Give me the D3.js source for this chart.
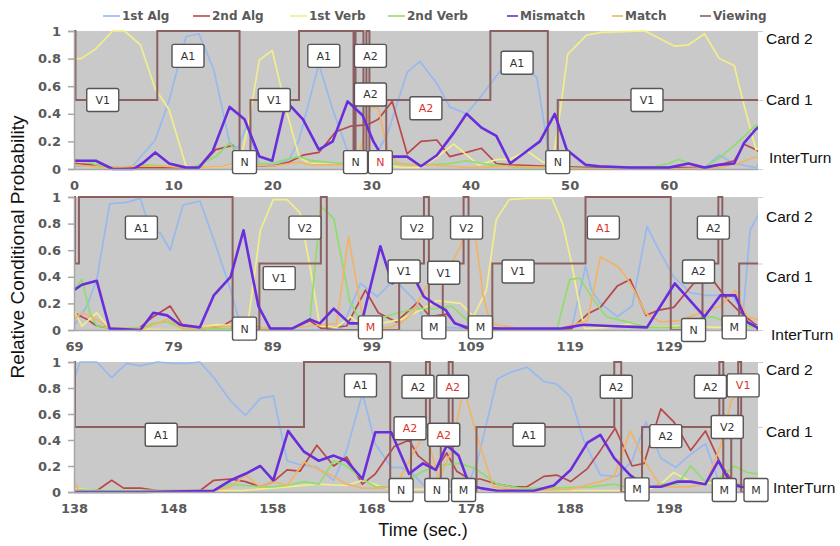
<!DOCTYPE html>
<html>
<head>
<meta charset="utf-8">
<script src="https://cdn.jsdelivr.net/npm/d3@7"></script>
<style>
  body { margin: 0; background: #fff; }
  svg { display: block; }
</style>
</head>
<body>
<svg id="chart" width="840" height="546"></svg>
<script>
// ---- Data (time in sec., value = relative conditional probability) ----
const panelStarts = [0, 69, 138];
const panelSpan = 69;
const tickOffsets = [0, 10, 20, 30, 40, 50, 60];
const yTicks = [0, 0.2, 0.4, 0.6, 0.8, 1];
const levelNames = ["Card 2", "Card 1", "InterTurn"];
const levelValues = [1, 0.5, 0];
const seriesNames = ["1st Alg", "2nd Alg", "1st Verb", "2nd Verb", "Mismatch", "Match", "Viewing"];

const alg1 = [
  [0,0.02],[2,0.02],[4,0.01],[5.9,0.02],[8.2,0.21],[9.6,0.5],[11.3,0.96],[12.6,0.98],[14.1,0.72],[15.7,0.19],
  [16.5,0.15],[17.4,0.31],[18.7,0.04],[20.4,0.03],[21.7,0.07],[22.7,0.21],[24.7,0.76],[26.1,0.43],[27.5,0.15],
  [28.5,0.03],[29.8,0.02],[31.6,0.25],[33.6,0.7],[34.9,0.78],[36.6,0.62],[37.9,0.45],[39.6,0.4],[41.1,0.53],
  [43,0.71],[45.4,0.76],[46.7,0.66],[47.8,0.16],[48.8,0.02],[52,0.01],[56,0.01],[60,0.01],[63.6,0.01],[65.1,0.1],
  [66.6,0.04],[68.8,0.01],
  [69,0.03],[70.3,0.18],[71.3,0.38],[72.6,0.95],[74.3,0.96],[75.7,0.99],[76.7,0.75],[77.7,0.73],[78.7,0.6],
  [80,0.94],[81.7,0.97],[83.1,0.68],[84.8,0.3],[85.8,0.03],[88,0.01],[92,0],[96,0.01],[97.9,0.35],[99.6,0.25],
  [101.3,0.38],[103.3,0.23],[104.5,0.05],[106,0.02],[110,0.01],[115,0],[119.2,0.01],[120.6,0.48],[121.2,0.3],
  [122.1,0.2],[123.8,0.1],[125.3,0.18],[126.8,0.78],[127.8,0.63],[129.5,0.4],[131.2,0.28],[132.8,0.26],
  [134.2,0.26],[135.5,0.25],[136.5,0.13],[137.2,0.75],[137.9,0.85],
  [138,0.86],[138.6,1],[140.3,1],[141.8,0.88],[143.3,0.99],[144.7,0.97],[146.4,1],[148,0.99],[149.4,0.99],
  [150.7,1],[152.1,0.88],[153.8,0.7],[155.3,0.59],[156.8,0.72],[158.1,0.74],[159.5,0.24],[160.8,0.21],
  [162.5,0.19],[164.2,0.09],[165.5,0.32],[167.1,0.76],[168.4,0.37],[170,0.19],[171,0.19],[172.3,0.13],
  [173.3,0.05],[175,0.01],[177.5,0.01],[178.7,0.24],[180.7,0.87],[182,0.92],[183.7,0.96],[185.4,0.85],
  [186.7,0.83],[188.1,0.73],[189.4,0.4],[191.1,0.13],[192.8,0.12],[194.3,0.24],[195.7,0.54],[197.2,0.26],
  [198.7,0.19],[200.2,0.29],[201.7,0.37],[203,0.09],[204.6,0.04],[207,0.02]
];

const alg2 = [
  [0,0.04],[2,0.03],[4,0.01],[8,0.01],[12.6,0.01],[14.3,0.14],[16,0.17],[16.8,0.03],[20,0.02],[21.7,0.05],
  [23.1,0.1],[24.7,0.12],[26.4,0.27],[27.9,0.31],[29.6,0.32],[30.7,0.36],[32.1,0.49],[33.6,0.11],[35,0.2],
  [36.6,0.21],[37.9,0.09],[39.6,0.12],[41.1,0.15],[42.6,0.04],[44,0.03],[48,0.02],[52,0.01],[60,0.01],
  [64,0.01],[66.6,0.06],[67.6,0.18],[68.8,0.14],
  [69,0.13],[70.3,0.08],[71.3,0.03],[73,0.01],[75.5,0.01],[77,0.1],[78.7,0.18],[80,0.03],[82,0.01],[84,0.03],
  [85.1,0.08],[86.4,0.05],[88,0.01],[91,0.01],[92.8,0.07],[94,0.01],[96.5,0.03],[97.2,0.13],[98.4,0.3],
  [99.7,0.13],[101.5,0.06],[103.7,0.21],[104.9,0.1],[106.6,0.12],[107.5,0.05],[108.6,0.01],[112,0],[116,0],
  [119.2,0.01],[120.8,0.12],[122.1,0.17],[123.8,0.33],[125.1,0.38],[126.7,0.11],[128,0.15],[129.5,0.17],
  [131.5,0.35],[133.6,0.36],[134.9,0.23],[136.1,0.14],[137.6,0.05],
  [138,0.03],[139.5,0.01],[140.3,0.01],[141.8,0.09],[143,0.03],[144.7,0.03],[146.4,0.01],[150.7,0.01],
  [152.1,0.09],[153.8,0.1],[155.3,0.08],[156.8,0.04],[158.1,0.08],[159.5,0.17],[160.8,0.16],[162.5,0.36],
  [164.2,0.2],[165.5,0.27],[167.1,0.06],[168.4,0.14],[170.3,0.35],[171.8,0.4],[172.7,0.28],[173.5,0.23],
  [174.5,0.17],[175.6,0.3],[176.6,0.16],[177.9,0.1],[179,0.1],[180.7,0.06],[182.3,0.04],[183.7,0.04],
  [185.4,0.12],[186.7,0.13],[188.1,0.08],[189.8,0.18],[191.1,0.32],[192.6,0.49],[194.3,0.2],[195.5,0.22],
  [197.2,0.64],[198.5,0.54],[200.2,0.32],[201.7,0.47],[203.2,0.22],[204.6,0.06],[207,0.04]
];

const verb1 = [
  [0,0.8],[0.7,0.8],[2.2,0.87],[3.9,1],[5.1,1],[6.7,0.9],[8.2,0.58],[9.6,0.43],[11.3,0.02],[12.6,0.01],
  [15,0.02],[16.7,0.04],[17.5,0.29],[18.7,0.79],[20,0.86],[21.4,0.43],[22.7,0.09],[23.7,0.04],[27,0.03],
  [29,0.03],[31,0.03],[33,0.01],[35,0.01],[36.5,0.08],[38.3,0.18],[40.8,0.03],[42.7,0.07],[44,0.07],
  [45.7,0.13],[47.3,0.05],[48.3,0.05],[49.1,0.45],[49.8,0.83],[51.7,0.97],[53.2,0.99],[57.6,1],[60.6,0.89],
  [62,0.9],[63.6,0.98],[65.1,0.8],[66.6,0.75],[67.6,0.46],[68.8,0.14],
  [69,0.15],[69.8,0.03],[71.3,0.13],[72.6,0.01],[80,0],[83.4,0.04],[86,0.03],[86.6,0.08],[87.8,0.75],
  [89.1,0.98],[90.5,0.98],[91.8,0.88],[92.8,0.48],[93.8,0.03],[95.5,0.02],[96.9,0.1],[98,0.03],[100,0.05],
  [102,0.08],[104,0.15],[105.6,0.22],[106.9,0.21],[108,0.2],[109.3,0.1],[110.6,0.3],[111.6,0.83],[112.9,0.98],
  [114.6,0.99],[117.2,0.99],[118.3,0.8],[119.2,0.5],[120.1,0.14],[120.5,0.01],[123,0.02],[125.5,0.05],
  [127,0.02],[130,0.03],[134,0.02],
  [138,0.03],[140,0.01],[150,0.01],[155,0.01],[159.5,0.04],[162.5,0.06],[165.5,0.05],[167.1,0.09],[169,0.04],
  [171,0.02],[174,0.02],[178,0.03],[180,0.02],[185,0.01],[190,0.01],[194,0.01],[196,0.02],[197.2,0.06],
  [198.5,0.15],[200.2,0.08],[202,0.07],[204,0.05],[207,0.05]
];

const verb2 = [
  [0,0.07],[1.2,0.06],[2.2,0.03],[4,0.01],[6,0.02],[7.5,0.03],[9.6,0.02],[12,0.01],[14.3,0.09],[15.7,0.19],
  [16.7,0.09],[17.8,0.04],[20,0.04],[21.4,0.07],[22.7,0.09],[24,0.06],[27,0.04],[30,0.02],[32,0.04],[35,0.03],
  [37.9,0.04],[39.6,0.06],[42,0.03],[45,0.01],[48,0.01],[55,0],[58,0.01],[60,0.04],[61,0.07],[62,0.04],
  [63.6,0.01],[65.1,0.08],[66.6,0.17],[68.8,0.32],
  [69,0.3],[69.8,0.38],[70.6,0.13],[71.3,0.03],[73,0.01],[76,0.02],[77,0.05],[78.4,0.06],[80,0.01],[84,0.01],
  [88,0.01],[91,0.01],[92.8,0.08],[93.9,0.93],[95.2,0.84],[96.8,0.22],[97.8,0.08],[99.5,0.08],[101.7,0.13],
  [103.4,0.16],[105.4,0.16],[107.1,0.18],[108.6,0.08],[110.6,0.02],[114,0],[117.7,0],[119,0.38],[120,0.39],
  [121.4,0.23],[122.7,0.1],[125.4,0.05],[127,0.02],[130,0.02],[131.7,0.08],[133.4,0.1],[135.2,0.05],
  [138,0.02],[140,0.01],[150,0.01],[152.1,0.01],[153.8,0.06],[155.3,0.05],[156.8,0.04],[158.1,0.04],
  [159.5,0.05],[161.2,0.08],[162.7,0.06],[164.2,0.24],[165.5,0.2],[167.1,0.1],[168.4,0.04],[170,0.04],
  [171.5,0.08],[173.2,0.16],[175.3,0.21],[176.9,0.22],[178.5,0.18],[180.7,0.06],[183,0.03],[186,0.03],
  [190,0.04],[192.5,0.06],[194.1,0.03],[195.7,0.03],[197.2,0.06],[198.9,0.06],[200.2,0.2],[201.7,0.08],
  [203,0.1],[204.6,0.2],[205.9,0.15],[207,0.14]
];

const mismatch = [
  [0,0.06],[2.2,0.06],[3.9,0],[6,0],[6.9,0.04],[8.2,0.12],[9.6,0.04],[11.3,0.01],[12.6,0.01],[14,0.13],
  [15.7,0.45],[17.2,0.36],[18.7,0.09],[20,0.06],[21.4,0.49],[23.1,0.36],[24.7,0.14],[26.1,0.2],[27.6,0.49],
  [29.1,0.39],[30.2,0.2],[31.1,0.09],[33.6,0.09],[35,0.02],[36.6,0.1],[38.3,0.26],[39.6,0.4],[41.1,0.3],
  [42.6,0.24],[44,0.04],[45.7,0.13],[47,0.2],[48.5,0.4],[49.7,0.14],[51.6,0.03],[53,0.02],[56,0.01],[60,0.01],
  [62,0.04],[63.6,0.01],[65,0.03],[66.6,0.04],[67.6,0.19],[68.8,0.29],
  [69,0.3],[69.8,0.34],[71.3,0.37],[72.6,0.01],[75.7,0],[77,0.13],[78.4,0.11],[79.7,0.04],[81.7,0.02],
  [83.1,0.26],[84.8,0.4],[86.1,0.75],[87.6,0.18],[88.8,0.01],[91,0.01],[92.8,0.08],[93.8,0.05],[95.2,0.16],
  [96.8,0.05],[98,0.05],[99.9,0.63],[101.1,0.35],[101.8,0.38],[103.4,0.38],[104.3,0.25],[105.3,0.2],
  [106.5,0.15],[107.4,0.05],[108.6,0.02],[112,0.01],[118,0.01],[120.4,0.04],[123,0.03],[126.8,0.02],
  [129.6,0.35],[132.6,0.1],[134.2,0.26],[135.7,0.26],[136.9,0.06],[137.9,0.02],
  [138,0],[145,0],[152.1,0.01],[153.8,0.09],[155.3,0.14],[156.8,0.2],[158.1,0.09],[159.6,0.47],[161.2,0.31],
  [162.7,0.24],[164.2,0.28],[165.5,0.24],[167.1,0.1],[168.4,0.46],[170,0.46],[171.8,0.14],[173.2,0.22],
  [174.5,0.17],[175.6,0.36],[176.8,0.28],[177.9,0.05],[179,0.03],[180.7,0.01],[184.4,0.01],[186.4,0.05],
  [188.1,0.17],[189.8,0.38],[191.1,0.44],[192.5,0.26],[194.1,0.13],[195.7,0.04],[197.2,0.04],[198.9,0.08],
  [200.2,0.08],[201.7,0.06],[203,0.24],[204.3,0.06],[205.3,0.04],[207,0.03]
];

const match = [
  [0,0.03],[3,0.01],[6,0.02],[9,0.02],[12,0.01],[15,0.02],[16.7,0.05],[18,0.03],[20,0.02],[22.7,0.05],
  [24,0.03],[27,0.03],[28.4,0.03],[29.1,0.2],[29.9,0.45],[30.7,0.44],[31.6,0.15],[32.5,0.05],[33.5,0.03],
  [36,0.03],[38,0.02],[40,0.01],[44,0.02],[48,0.01],[52,0],[60,0],[65,0.01],[67,0.04],[68.8,0.09],
  [69,0.08],[69.8,0.13],[71.3,0.08],[72.6,0.01],[76,0.01],[78.4,0.08],[80,0.01],[85,0.03],[87,0.02],[90,0.01],
  [93,0.03],[95.5,0.05],[96.7,0.7],[98.1,0.1],[99.5,0.02],[101,0.02],[102.1,0.06],[103.2,0.13],[104.3,0.3],
  [105.4,0.4],[106.7,0.45],[108,0.63],[108.7,0.82],[109.5,0.7],[110.3,0.25],[111,0.05],[114,0.01],[118,0.01],
  [120.8,0.07],[122.1,0.55],[123.8,0.48],[124.5,0.42],[125.5,0.3],[126.7,0.12],[128.2,0.06],[130,0.07],
  [131.5,0.11],[134.2,0.18],[135.7,0.3],[136.9,0.1],[137.9,0.08],
  [138,0.08],[138.6,0],[145,0],[152.1,0.01],[153.8,0.04],[155.3,0.13],[156.8,0.04],[158.1,0.08],[159.5,0.05],
  [161.2,0.23],[162.7,0.17],[164.2,0.12],[165.5,0.06],[167.1,0.03],[169,0.03],[170.5,0.05],[172.3,0.31],
  [173.5,0.46],[174.8,0.1],[176,0.3],[177.3,0.8],[178.7,0.42],[180.3,0.04],[183,0.01],[188,0.02],[191.1,0.08],
  [192.5,0.12],[194.1,0.47],[195.7,0.22],[197.2,0.04],[200,0.04],[201.7,0.06],[203.2,0.35],[204.3,0.7],
  [205.3,0.82],[207,0.86]
];

// step series: 1 = Card 2, 0.5 = Card 1, 0 = InterTurn
const viewing = [
  [0,1],[0.15,0.5],[8.4,1],[16.7,0],[17.8,0.5],[22.7,1],[28.2,0],[28.4,1],[29.2,0],[29.5,1],[29.8,0],
  [31.5,0.5],[42,1],[47.8,0],[48.8,0.5],
  [69,1],[69.1,0.5],[69.5,1],[85,0],[87.7,0.5],[93.9,1],[94.5,0],[101.8,0.5],[104.3,1],[104.8,0],[106.2,0.5],
  [108.3,1],[108.8,0],[111.2,0.5],[120.6,1],[129.2,0],[132.4,0.5],[134,1],[134.4,0],[136.1,0.5],
  [138,1],[138.1,0.5],[161.2,1],[169.9,0],[172,0.5],[173.5,1],[173.9,0],[175,0.5],[175.8,1],[176.2,0],
  [178.6,0.5],[192.5,1],[193.2,0],[195.3,0.5],[203.1,1],[203.5,0],[204.3,0.5],[205,1],[205.3,0],[207,0]
];

// annotation boxes [time, value, text, red?]
const annotations = [
  [2.9,0.5,"V1",0],[11.5,0.82,"A1",0],[17.2,0.05,"N",0],[20.2,0.5,"V1",0],[25.2,0.82,"A1",0],
  [29.9,0.82,"A2",0],[29.9,0.54,"A2",0],[28.4,0.05,"N",0],[30.9,0.05,"N",1],[35.5,0.44,"A2",1],
  [44.7,0.77,"A1",0],[48.8,0.05,"N",0],[57.8,0.5,"V1",0],
  [75.8,0.77,"A1",0],[86.2,0.01,"N",0],[92.3,0.77,"V2",0],[89.7,0.39,"V1",0],[98.9,0.02,"M",1],
  [102.3,0.44,"V1",0],[103.6,0.77,"V2",0],[106.3,0.43,"V1",0],[105.3,0.02,"M",0],[108.6,0.77,"V2",0],
  [110,0.02,"M",0],[113.8,0.44,"V1",0],[122.4,0.77,"A1",1],[133.5,0.77,"A2",0],[132,0.44,"A2",0],
  [131.5,0.0,"N",0],[135.6,0.02,"M",0],
  [146.8,0.44,"A1",0],[166.9,0.82,"A1",0],[172.7,0.81,"A2",0],[176.2,0.81,"A2",1],[171.9,0.49,"A2",1],
  [175.3,0.44,"A2",1],[171,0.015,"N",0],[174.6,0.015,"N",0],[177.3,0.015,"M",0],[183.9,0.44,"A1",0],
  [192.7,0.81,"A2",0],[194.8,0.02,"M",0],[197.7,0.43,"A2",0],[202.2,0.81,"A2",0],[205.5,0.82,"V1",1],
  [203.9,0.5,"V2",0],[203.6,0.015,"M",0],[206.8,0.015,"M",0]
];

// ---- Layout / style ----
const W = 840, H = 546;
const LEFT = 74, RIGHT = 758;
const PANELS = [
  { top: 31, bottom: 169, levelDy: [8, 0, -11] },
  { top: 197, bottom: 330, levelDy: [20, 13, 5] },
  { top: 362, bottom: 492, levelDy: [8, 5, -4] }
];
const COLORS = ["#97b9f0", "#b8484b", "#f2ee8a", "#8ede6b", "#6a2ddc", "#f0b468", "#8c6061"];
const LEGEND_X = [103, 193, 290, 388, 507, 612, 700];
const TICK_FONT = "DejaVu Sans, Verdana, sans-serif";
const LABEL_FONT = "Liberation Sans, Arial, sans-serif";

const svg = d3.select("#chart");

const series = [
  { data: alg1, color: COLORS[0], width: 1.7 },
  { data: alg2, color: COLORS[1], width: 1.7 },
  { data: verb1, color: COLORS[2], width: 1.7 },
  { data: verb2, color: COLORS[3], width: 1.7 },
  { data: match, color: COLORS[5], width: 1.7 },
  { data: mismatch, color: COLORS[4], width: 2.6 }
];

function slicePanel(data, start, end) {
  let i0 = data.findIndex((d) => d[0] >= start);
  let i1 = -1;
  data.forEach((d, i) => { if (d[0] <= end) i1 = i; });
  return data.slice(Math.max(0, i0 - 1), Math.min(data.length, i1 + 2));
}

function sliceSteps(data, start, end) {
  const inside = data.filter((d) => d[0] >= start && d[0] < end);
  const before = data.filter((d) => d[0] < start).pop();
  const out = [];
  if (before && (!inside.length || inside[0][0] > start)) out.push([start, before[1]]);
  out.push(...inside);
  out.push([end, out[out.length - 1][1]]);
  return out;
}

// ---- Panels ----
PANELS.forEach((p, pi) => {
  const start = panelStarts[pi];
  const end = start + panelSpan;
  const x = d3.scaleLinear().domain([start, end]).range([LEFT, RIGHT]);
  const y = d3.scaleLinear().domain([0, 1]).range([p.bottom, p.top]);

  const g = svg.append("g").attr("class", "panel");

  g.append("rect")
    .attr("x", LEFT).attr("y", p.top)
    .attr("width", RIGHT - LEFT).attr("height", p.bottom - p.top)
    .attr("fill", "#c9c9c9");

  const clipId = "clip" + pi;
  svg.append("clipPath").attr("id", clipId)
    .append("rect")
    .attr("x", LEFT).attr("y", p.top - 2)
    .attr("width", RIGHT - LEFT).attr("height", p.bottom - p.top + 4);

  const plot = g.append("g").attr("clip-path", `url(#${clipId})`);

  const line = d3.line().x((d) => x(d[0])).y((d) => y(d[1]));
  const step = d3.line().x((d) => x(d[0])).y((d) => y(d[1])).curve(d3.curveStepAfter);

  series.slice(0, 5).forEach((s) => {
    plot.append("path")
      .datum(slicePanel(s.data, start, end))
      .attr("d", line)
      .attr("fill", "none")
      .attr("stroke", s.color)
      .attr("stroke-width", s.width)
      .attr("stroke-linejoin", "round");
  });

  plot.append("path")
    .datum(sliceSteps(viewing, start, end))
    .attr("d", step)
    .attr("fill", "none")
    .attr("stroke", COLORS[6])
    .attr("stroke-width", 2);

  const mm = series[5];
  plot.append("path")
    .datum(slicePanel(mm.data, start, end))
    .attr("d", line)
    .attr("fill", "none")
    .attr("stroke", mm.color)
    .attr("stroke-width", mm.width)
    .attr("stroke-linejoin", "round");

  // axes
  const yAxis = d3.axisLeft(y).tickValues(yTicks).tickSize(6).tickPadding(7)
    .tickFormat((d) => (d === 0 || d === 1 ? d3.format("d")(d) : d3.format(".1f")(d)));
  const ya = g.append("g").attr("transform", `translate(${LEFT},0)`).call(yAxis);
  ya.select(".domain").attr("stroke", "#a8a8a8").attr("stroke-width", 1.5);
  ya.selectAll(".tick line").attr("stroke", "#a8a8a8").attr("stroke-width", 1.5);
  ya.selectAll(".tick text")
    .attr("font-family", TICK_FONT).attr("font-weight", "bold")
    .attr("font-size", 13).attr("fill", "#5a5a5a");

  const xAxis = d3.axisBottom(x).tickValues(tickOffsets.map((o) => start + o))
    .tickSize(0).tickPadding(12).tickFormat(d3.format("d"));
  const xa = g.append("g").attr("transform", `translate(0,${p.bottom})`).call(xAxis);
  xa.select(".domain").attr("stroke", "#a8a8a8").attr("stroke-width", 1.5);
  xa.selectAll(".tick text")
    .attr("font-family", TICK_FONT).attr("font-weight", "bold")
    .attr("font-size", 13).attr("fill", "#5a5a5a");

  // right-hand level labels
  const yr = d3.axisRight(y).tickValues(levelValues).tickSize(5).tickFormat("");
  const ra = g.append("g").attr("transform", `translate(${RIGHT},0)`).call(yr);
  ra.select(".domain").remove();
  ra.selectAll(".tick line").attr("stroke", "#d0d0d0");

  levelNames.forEach((name, li) => {
    g.append("text")
      .attr("x", li === 2 ? 769 + pi * 2 : 766)
      .attr("y", y(levelValues[li]) + p.levelDy[li])
      .attr("dy", "0.35em")
      .attr("font-family", LABEL_FONT)
      .attr("font-size", 15.5)
      .attr("fill", "#111")
      .text(name);
  });

  // annotation boxes
  const notes = annotations.filter((a) => a[0] >= start && a[0] < end);
  const ng = g.selectAll("g.note").data(notes).join("g")
    .attr("class", "note")
    .attr("transform", (d) => `translate(${x(d[0])},${y(d[1])})`);
  ng.append("rect")
    .attr("x", (d) => -(8 + 4 * d[2].length))
    .attr("y", -11.5)
    .attr("width", (d) => 16 + 8 * d[2].length)
    .attr("height", 23)
    .attr("rx", 2)
    .attr("fill", "#fff")
    .attr("stroke", "#555")
    .attr("stroke-width", 1.4);
  ng.append("text")
    .attr("text-anchor", "middle")
    .attr("dy", "0.36em")
    .attr("font-family", TICK_FONT)
    .attr("font-size", 11)
    .attr("fill", (d) => (d[3] ? "#d8352c" : "#333"))
    .text((d) => d[2]);
});

// ---- Legend ----
const lg = svg.append("g").attr("class", "legend");
seriesNames.forEach((name, i) => {
  const lx = LEGEND_X[i];
  const len = i >= 4 ? 11 : 17;
  lg.append("line")
    .attr("x1", lx).attr("x2", lx + len)
    .attr("y1", 16).attr("y2", 16)
    .attr("stroke", COLORS[i]).attr("stroke-width", 1.6);
  lg.append("text")
    .attr("x", lx + len + 2).attr("y", 16).attr("dy", "0.36em")
    .attr("font-family", TICK_FONT).attr("font-weight", "bold")
    .attr("font-size", 12).attr("fill", "#5a5a5a")
    .text(name);
});

// ---- Titles ----
svg.append("text")
  .attr("transform", "translate(24,247) rotate(-90)")
  .attr("text-anchor", "middle")
  .attr("font-family", LABEL_FONT)
  .attr("font-size", 19)
  .attr("fill", "#111")
  .text("Relative Conditional Probability");

svg.append("text")
  .attr("x", 423).attr("y", 536)
  .attr("text-anchor", "middle")
  .attr("font-family", LABEL_FONT)
  .attr("font-size", 18)
  .attr("fill", "#111")
  .text("Time (sec.)");
</script>
</body>
</html>
